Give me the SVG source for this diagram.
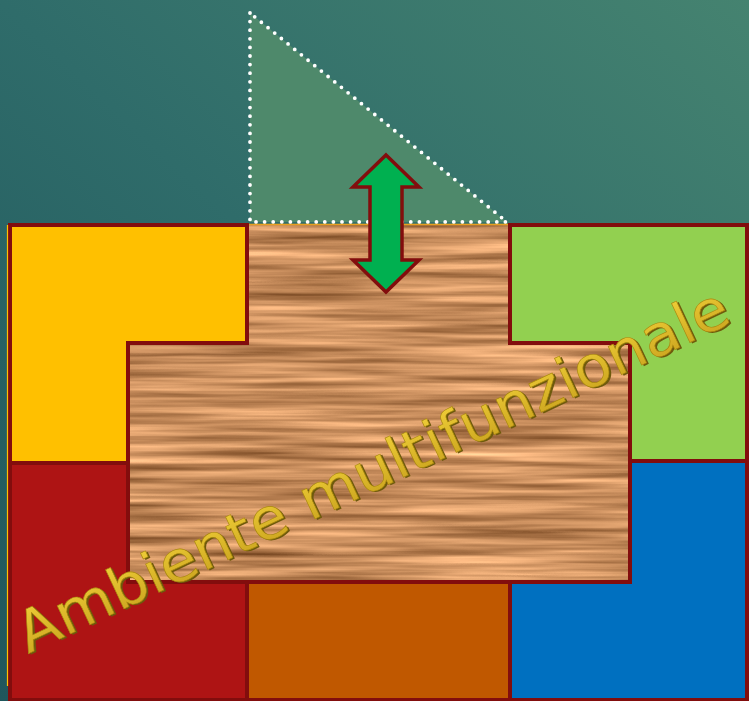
<svg xmlns="http://www.w3.org/2000/svg" width="749" height="701" viewBox="0 0 749 701">
  <defs>
    <linearGradient id="bg" x1="0" y1="1" x2="1" y2="0">
      <stop offset="0" stop-color="#1f565c"/>
      <stop offset="0.5" stop-color="#2f6c6a"/>
      <stop offset="1" stop-color="#458370"/>
    </linearGradient>
    <linearGradient id="gold" x1="0" y1="0" x2="0" y2="1">
      <stop offset="0" stop-color="#f2d23a"/>
      <stop offset="1" stop-color="#c8a01c"/>
    </linearGradient>
    <filter id="wood" x="0" y="0" width="100%" height="100%" color-interpolation-filters="sRGB">
      <feTurbulence type="fractalNoise" baseFrequency="0.005 0.14" numOctaves="3" seed="7" result="n"/>
      <feColorMatrix in="n" type="matrix" values="0.75 0 0 0 0.41  0.65 0 0 0 0.23  0.55 0 0 0 0.09  0 0 0 0 1"/>
    </filter>
    <style>
      .tile { stroke: #820d0d; stroke-width: 4; stroke-linejoin: miter; }
      .lbl { font-family: "DejaVu Sans", "Liberation Sans", sans-serif; font-size: 57px; }
    </style>
  </defs>

  <rect x="0" y="0" width="749" height="701" fill="url(#bg)"/>

  <g id="triangle">
    <polygon points="250,13 250,222 507,222" fill="#4e896b"/>
    <polygon points="250,13 250,222 507,222" fill="none" stroke="#ffffff" stroke-width="3.8" stroke-linecap="round" stroke-dasharray="0 8.6"/>
  </g>

  <g id="wood-area">
    <rect x="128" y="224" width="502" height="358" fill="#c68d5a" filter="url(#wood)"/>
    <line x1="247" y1="224.5" x2="510" y2="224.5" stroke="#e8a020" stroke-width="1.5"/>
  </g>

  <g id="tile-yellow">
    <polygon class="tile" points="10,225 247,225 247,343 128,343 128,463 10,463" fill="#ffc000"/>
  </g>
  <g id="tile-green">
    <polygon class="tile" points="510,225 747,225 747,461 630,461 630,343 510,343" fill="#92d050"/>
  </g>
  <g id="tile-red">
    <polygon class="tile" points="10,463 128,463 128,582 247,582 247,700 10,700" fill="#ae1414"/>
  </g>
  <g id="tile-orange">
    <rect class="tile" x="247" y="582" width="263" height="118" fill="#c05800"/>
  </g>
  <g id="tile-blue">
    <polygon class="tile" points="510,582 630,582 630,461 747,461 747,700 510,700" fill="#0070c0"/>
  </g>
  <line x1="7.5" y1="225" x2="7.5" y2="686" stroke="#ffc000" stroke-width="1.2"/>

  <g id="connectors">
    <g id="arrow">
      <polygon points="386,155 419,187 402,187 402,260 419,260 386,292 353,260 370,260 370,187 353,187" fill="#00b050" stroke="#820d0d" stroke-width="3.5" stroke-linejoin="miter"/>
    </g>
  </g>

  <g id="label" transform="translate(28,654) rotate(-25.2)">
    <text class="lbl" x="1.6" y="1.8" fill="#6e5a0c" textLength="780" lengthAdjust="spacingAndGlyphs">Ambiente multifunzionale</text>
    <text class="lbl" x="0" y="0" fill="url(#gold)" stroke="#a8860e" stroke-width="0.6" textLength="780" lengthAdjust="spacingAndGlyphs">Ambiente multifunzionale</text>
  </g>
</svg>
